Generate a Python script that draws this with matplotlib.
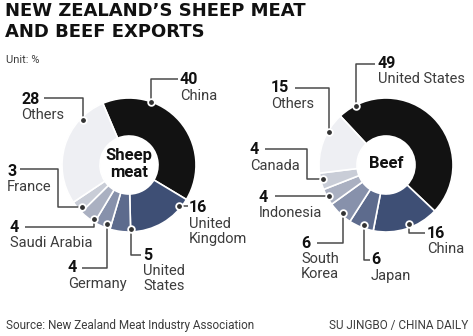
import matplotlib
matplotlib.use("Agg")
import matplotlib.pyplot as plt

# ---------------- data ----------------
sheep_labels = ["China", "United\nKingdom", "United\nStates", "Germany", "Saudi Arabia", "France", "Others"]
sheep_values = [40, 16, 5, 4, 4, 3, 28]
beef_labels = ["United States", "China", "Japan", "South\nKorea", "Indonesia", "Canada", "Others"]
beef_values = [49, 16, 6, 6, 4, 4, 15]

# ---------------- style ----------------
W, H = 473, 336
slice_colors = ["#121212", "#3e4f75", "#5d6b8d", "#8791ab", "#aab0c1", "#c9cdd7", "#eeeff3"]
txt_col = "#3c3c3c"
line_col = "#4a4a4a"
FONT = "Roboto"

fig = plt.figure(figsize=(W / 100, H / 100), dpi=100)
ax = fig.add_axes([0, 0, 1, 1])


def Y(y):
    return H - y


def donut(values, center, startangle):
    ax.pie(values, colors=slice_colors, radius=67, center=(center[0], Y(center[1])),
           startangle=startangle, counterclock=False,
           wedgeprops=dict(width=38, edgecolor="white", linewidth=1.2))


donut(sheep_values, (129, 165), 113)
donut(beef_values, (386, 165), 133)

ax.set_xlim(0, W)
ax.set_ylim(0, H)
ax.set_aspect("equal")
ax.axis("off")

# center labels
ax.text(129, Y(164), "Sheep\nmeat", ha="center", va="center", fontsize=12,
        fontweight="bold", color="#111111", family=FONT, linespacing=1.1)
ax.text(386, Y(164), "Beef", ha="center", va="center", fontsize=12,
        fontweight="bold", color="#111111", family=FONT)


def leader(points):
    xs = [p[0] for p in points]
    ys = [Y(p[1]) for p in points]
    ax.plot(xs, ys, color=line_col, lw=1.1, solid_capstyle="butt", zorder=5)
    ax.plot(xs[0], ys[0], "o", ms=4.8, mfc="#333333", mec="white", mew=1.3, zorder=6)


def label(x, y, value, name, ha="left"):
    ax.text(x, Y(y), str(value), ha=ha, va="center", fontsize=11.5, fontweight="bold",
            color="#111111", family=FONT)
    ax.text(x, Y(y + 9), name, ha=ha, va="top", fontsize=10.5, color=txt_col,
            family=FONT, linespacing=1.05)


# sheep layout
sheep_layout = [
    ((180, 80), [(151, 102), (151, 79), (178, 79)]),
    ((189, 208), [(179, 206), (188, 206)]),
    ((143, 255), [(131, 229), (131, 255), (141, 255)]),
    ((68, 268), [(107, 224), (107, 268), (82, 268)]),
    ((10, 227), [(94, 219), (94, 227), (25, 227)]),
    ((7, 171), [(82, 207), (58, 207), (58, 169), (20, 169)]),
    ((21, 99), [(83, 120), (83, 98), (44, 98)]),
]
for (pos, pts), v, n in zip(sheep_layout, sheep_values, sheep_labels):
    leader(pts)
    label(pos[0], pos[1], v, n)

beef_layout = [
    ((378, 63), [(356, 106), (356, 64), (375, 64)]),
    ((427, 233), [(409, 224), (409, 233), (425, 233)]),
    ((371, 260), [(364, 225), (364, 260), (370, 260)]),
    ((301, 243), [(343, 213), (343, 243), (317, 243)]),
    ((259, 197), [(329, 196), (275, 196)]),
    ((250, 150), [(323, 179), (307, 179), (307, 149), (265, 149)]),
    ((271, 88), [(329, 132), (329, 88), (295, 88)]),
]
for (pos, pts), v, n in zip(beef_layout, beef_values, beef_labels):
    leader(pts)
    label(pos[0], pos[1], v, n)

# titles
ax.text(5, Y(2), "NEW ZEALAND\u2019S SHEEP MEAT\nAND BEEF EXPORTS", ha="left", va="top",
        fontsize=13, fontweight="bold", color="#111111", family="DejaVu Sans", linespacing=1.2)
ax.text(6, Y(60), "Unit: %", ha="left", va="center", fontsize=8, color=txt_col, family=FONT)
ax.text(6, Y(326), "Source: New Zealand Meat Industry Association", ha="left", va="center",
        fontsize=8.5, color=txt_col, family=FONT)
ax.text(468, Y(326), "SU JINGBO / CHINA DAILY", ha="right", va="center",
        fontsize=8.5, color=txt_col, family=FONT)

fig.savefig("out.png", dpi=100, facecolor="white")
